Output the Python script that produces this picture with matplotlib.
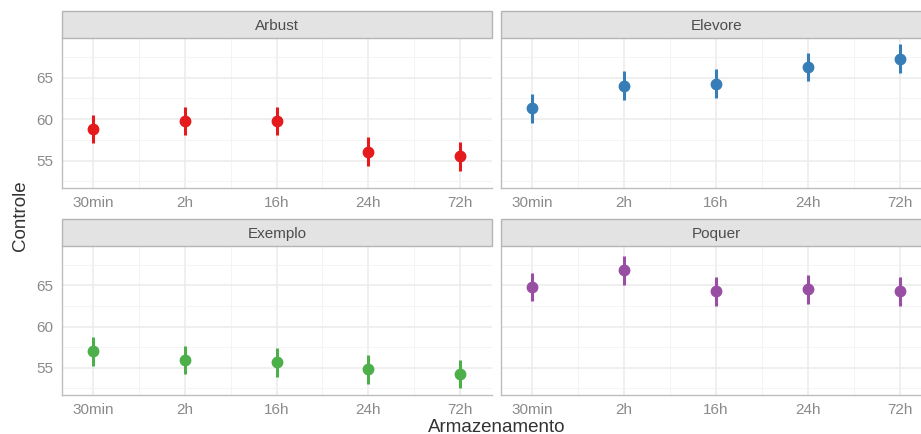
import matplotlib
matplotlib.use("Agg")
import matplotlib.pyplot as plt
from matplotlib.patches import Rectangle
from matplotlib.ticker import MultipleLocator

plt.rcParams['font.family'] = ['Liberation Sans', 'DejaVu Sans']

categories = ["30min", "2h", "16h", "24h", "72h"]
panels = ["Arbust", "Elevore", "Exemplo", "Poquer"]
colors = ["#E41A1C", "#377EB8", "#4DAF4A", "#984EA3"]

arbust_mean = [58.8, 59.8, 59.8, 56.05, 55.55]
arbust_low = [57.1, 58.1, 58.1, 54.3, 53.8]
arbust_high = [60.5, 61.5, 61.5, 57.8, 57.3]

elevore_mean = [61.3, 64.0, 64.3, 66.3, 67.3]
elevore_low = [59.5, 62.3, 62.6, 64.6, 65.6]
elevore_high = [63.0, 65.8, 66.0, 68.0, 69.1]

exemplo_mean = [57.0, 56.0, 55.7, 54.8, 54.25]
exemplo_low = [55.2, 54.2, 53.9, 53.0, 52.5]
exemplo_high = [58.7, 57.7, 57.4, 56.5, 56.0]

poquer_mean = [64.85, 66.85, 64.3, 64.5, 64.3]
poquer_low = [63.1, 65.0, 62.5, 62.7, 62.5]
poquer_high = [66.5, 68.5, 66.0, 66.2, 66.0]

means = [arbust_mean, elevore_mean, exemplo_mean, poquer_mean]
lows = [arbust_low, elevore_low, exemplo_low, poquer_low]
highs = [arbust_high, elevore_high, exemplo_high, poquer_high]

W, H = 921, 434
fig = plt.figure(figsize=(W / 100, H / 100), dpi=100)

# panel boxes in pixels: (x0, x1, ytop, ybottom)
boxes = [
    (62, 492, 38, 188),
    (501, 932, 38, 188),
    (62, 492, 245.7, 395),
    (501, 932, 245.7, 395),
]
strip_h = 27

xs = list(range(1, len(categories) + 1))
for i, (name, col) in enumerate(zip(panels, colors)):
    x0, x1, yt, yb = boxes[i]
    ax = fig.add_axes([x0 / W, 1 - yb / H, (x1 - x0) / W, (yb - yt) / H])
    ax.set_facecolor("white")
    ax.set_xlim(0.66, 5.35)
    ax.set_ylim(51.7, 69.8)
    ax.yaxis.set_major_locator(MultipleLocator(5))
    ax.yaxis.set_minor_locator(MultipleLocator(2.5))
    ax.set_xticks(xs)
    ax.set_xticks([1.5, 2.5, 3.5, 4.5], minor=True)
    ax.set_xticklabels(categories)
    ax.grid(True, which="major", color="#EBEBEB", linewidth=1.1)
    ax.grid(True, which="minor", color="#F3F3F3", linewidth=0.6)
    ax.set_axisbelow(True)
    for s in ["top", "right"]:
        ax.spines[s].set_visible(False)
    for s in ["left", "bottom"]:
        ax.spines[s].set_color("#BDBDBD")
        ax.spines[s].set_linewidth(1.0)
    ax.tick_params(which="both", length=0)
    ax.tick_params(axis="x", pad=5.5, labelsize=11, labelcolor="#8A8A8A")
    ax.tick_params(axis="y", pad=6.5, labelsize=11, labelcolor="#8A8A8A")
    if i % 2 == 1:
        ax.set_yticklabels([])
    m, lo, hi = means[i], lows[i], highs[i]
    ax.vlines(xs, lo, hi, color=col, linewidth=2.2, zorder=3)
    ax.plot(xs, m, "o", color=col, markersize=7.5, zorder=4, linestyle="none")
    # strip
    frac = strip_h / (yb - yt)
    ax.add_patch(Rectangle((0, 1.0), 1, frac, transform=ax.transAxes,
                           facecolor="#E3E3E3", edgecolor="#B5B5B5",
                           linewidth=1.0, clip_on=False, zorder=5))
    ax.text(0.5, 1 + frac / 2, name, transform=ax.transAxes, ha="center",
            va="center_baseline", fontsize=11, color="#4D4D4D", zorder=6)

fig.text(20 / W, 1 - 216 / H, "Controle", rotation=90, ha="center",
         va="center", fontsize=13.5, color="#333333")
fig.text(497 / W, 1 - 427 / H, "Armazenamento", ha="center", va="center",
         fontsize=13.5, color="#333333")

fig.savefig("out.png", dpi=100)
